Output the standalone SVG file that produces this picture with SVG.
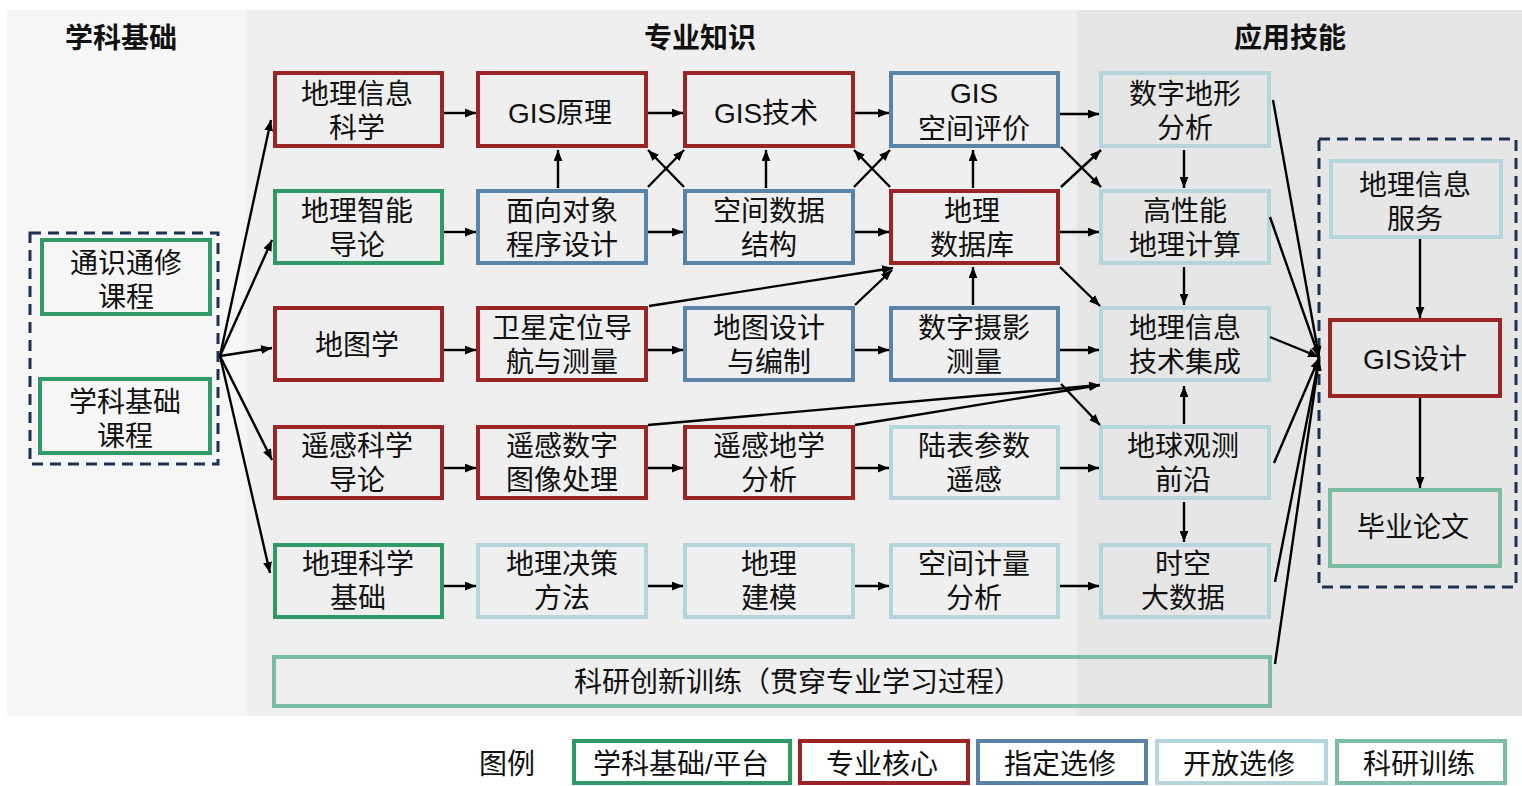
<svg xmlns="http://www.w3.org/2000/svg" width="1522" height="786" viewBox="0 0 1522 786">
<defs>
<marker id="ah" viewBox="0 0 10 8" refX="10" refY="4" markerWidth="11" markerHeight="9" markerUnits="userSpaceOnUse" orient="auto"><path d="M0,0 L10,4 L0,8 Z" fill="#000"/></marker>
<style>
text{font-family:"Liberation Sans","Noto Sans CJK SC",sans-serif;font-size:28px;fill:#111;text-anchor:middle;dominant-baseline:central}
.t{font-weight:bold;font-size:28px}
rect.b{fill:none;stroke-width:4}
.g{stroke:#2e9a66}.r{stroke:#9b2424}.bl{stroke:#5a83a8}.lb{stroke:#b5d5dc}.rs{stroke:#7cbea4}
.d{fill:none;stroke:#1f3152;stroke-width:3;stroke-dasharray:11 7}
#conn line{stroke:#000;stroke-width:2.4;fill:none;marker-end:url(#ah)}
</style>
</defs>
<rect width="1522" height="786" fill="#fff"/>
<rect x="7" y="10" width="240" height="706" fill="#f6f6f6"/>
<rect x="247" y="10" width="830" height="706" fill="#efefef"/>
<rect x="1077" y="10" width="445" height="706" fill="#e6e6e6"/>
<text class="t" x="121" y="38">学科基础</text>
<text class="t" x="700" y="38">专业知识</text>
<text class="t" x="1290" y="38">应用技能</text>

<rect class="d" x="30" y="233" width="188" height="231"/>
<rect class="d" x="1319" y="139" width="197" height="448"/>

<g id="n_tongshi"><rect class="b g" x="42" y="240" width="168" height="74"/><text><tspan x="126" y="263">通识通修</tspan><tspan x="126" y="297">课程</tspan></text></g>
<g id="n_xueke"><rect class="b g" x="40" y="379" width="170" height="74"/><text><tspan x="125" y="402">学科基础</tspan><tspan x="125" y="436">课程</tspan></text></g>

<g id="n11"><rect class="b r" x="275" y="73" width="167" height="73"/><text><tspan x="357" y="94">地理信息</tspan><tspan x="357" y="128">科学</tspan></text></g>
<g id="n12"><rect class="b r" x="478" y="73" width="168" height="73"/><text x="560" y="113">GIS原理</text></g>
<g id="n13"><rect class="b r" x="685" y="73" width="168" height="73"/><text x="766" y="113">GIS技术</text></g>
<g id="n14"><rect class="b bl" x="891" y="73" width="167" height="73"/><text><tspan x="974" y="93">GIS</tspan><tspan x="974" y="129">空间评价</tspan></text></g>
<g id="n15"><rect class="b lb" x="1101" y="73" width="168" height="73"/><text><tspan x="1185" y="94">数字地形</tspan><tspan x="1185" y="128">分析</tspan></text></g>

<g id="n21"><rect class="b g" x="275" y="191" width="167" height="72"/><text><tspan x="357" y="211">地理智能</tspan><tspan x="357" y="245">导论</tspan></text></g>
<g id="n22"><rect class="b bl" x="478" y="191" width="168" height="72"/><text><tspan x="562" y="211">面向对象</tspan><tspan x="562" y="245">程序设计</tspan></text></g>
<g id="n23"><rect class="b bl" x="685" y="191" width="168" height="72"/><text><tspan x="769" y="211">空间数据</tspan><tspan x="769" y="245">结构</tspan></text></g>
<g id="n24"><rect class="b r" x="891" y="191" width="167" height="72"/><text><tspan x="972" y="211">地理</tspan><tspan x="972" y="245">数据库</tspan></text></g>
<g id="n25"><rect class="b lb" x="1101" y="191" width="168" height="72"/><text><tspan x="1185" y="211">高性能</tspan><tspan x="1185" y="245">地理计算</tspan></text></g>

<g id="n31"><rect class="b r" x="275" y="308" width="167" height="72"/><text x="357" y="345">地图学</text></g>
<g id="n32"><rect class="b r" x="478" y="308" width="168" height="72"/><text><tspan x="562" y="328">卫星定位导</tspan><tspan x="562" y="362">航与测量</tspan></text></g>
<g id="n33"><rect class="b bl" x="685" y="308" width="168" height="72"/><text><tspan x="769" y="328">地图设计</tspan><tspan x="769" y="362">与编制</tspan></text></g>
<g id="n34"><rect class="b bl" x="891" y="308" width="167" height="72"/><text><tspan x="974" y="328">数字摄影</tspan><tspan x="974" y="362">测量</tspan></text></g>
<g id="n35"><rect class="b lb" x="1101" y="308" width="168" height="72"/><text><tspan x="1185" y="328">地理信息</tspan><tspan x="1185" y="362">技术集成</tspan></text></g>

<g id="n41"><rect class="b r" x="275" y="427" width="167" height="71"/><text><tspan x="357" y="446">遥感科学</tspan><tspan x="357" y="480">导论</tspan></text></g>
<g id="n42"><rect class="b r" x="478" y="427" width="168" height="71"/><text><tspan x="562" y="446">遥感数字</tspan><tspan x="562" y="480">图像处理</tspan></text></g>
<g id="n43"><rect class="b r" x="685" y="427" width="168" height="71"/><text><tspan x="769" y="446">遥感地学</tspan><tspan x="769" y="480">分析</tspan></text></g>
<g id="n44"><rect class="b lb" x="891" y="427" width="167" height="71"/><text><tspan x="974" y="446">陆表参数</tspan><tspan x="974" y="480">遥感</tspan></text></g>
<g id="n45"><rect class="b lb" x="1101" y="427" width="168" height="71"/><text><tspan x="1183" y="446">地球观测</tspan><tspan x="1183" y="480">前沿</tspan></text></g>

<g id="n51"><rect class="b g" x="275" y="545" width="167" height="72"/><text><tspan x="358" y="564">地理科学</tspan><tspan x="358" y="598">基础</tspan></text></g>
<g id="n52"><rect class="b lb" x="478" y="545" width="168" height="72"/><text><tspan x="562" y="564">地理决策</tspan><tspan x="562" y="598">方法</tspan></text></g>
<g id="n53"><rect class="b lb" x="685" y="545" width="168" height="72"/><text><tspan x="769" y="564">地理</tspan><tspan x="769" y="598">建模</tspan></text></g>
<g id="n54"><rect class="b lb" x="891" y="545" width="167" height="72"/><text><tspan x="974" y="564">空间计量</tspan><tspan x="974" y="598">分析</tspan></text></g>
<g id="n55"><rect class="b lb" x="1101" y="545" width="168" height="72"/><text><tspan x="1183" y="564">时空</tspan><tspan x="1183" y="598">大数据</tspan></text></g>

<g id="n_research"><rect class="b rs" x="274" y="657" width="996" height="49"/><text x="798" y="682">科研创新训练（贯穿专业学习过程）</text></g>

<g id="n_fuwu"><rect class="b lb" x="1331" y="161" width="170" height="76"/><text><tspan x="1415" y="185">地理信息</tspan><tspan x="1415" y="219">服务</tspan></text></g>
<g id="n_gisdesign"><rect class="b r" x="1330" y="320" width="170" height="76"/><text x="1415" y="359">GIS设计</text></g>
<g id="n_lunwen"><rect class="b rs" x="1330" y="490" width="170" height="76"/><text x="1413" y="527">毕业论文</text></g>

<g id="conn">
<line x1="220" y1="356" x2="271" y2="120"/>
<line x1="220" y1="356" x2="272" y2="240"/>
<line x1="220" y1="356" x2="272" y2="348"/>
<line x1="220" y1="356" x2="272" y2="460"/>
<line x1="220" y1="356" x2="270" y2="573"/>

<line x1="444" y1="113" x2="476" y2="113"/>
<line x1="648" y1="113" x2="683" y2="113"/>
<line x1="855" y1="113" x2="889" y2="113"/>
<line x1="1060" y1="114" x2="1099" y2="114"/>

<line x1="444" y1="232" x2="476" y2="232"/>
<line x1="648" y1="232" x2="683" y2="232"/>
<line x1="855" y1="232" x2="889" y2="232"/>
<line x1="1060" y1="232" x2="1099" y2="232"/>

<line x1="444" y1="350" x2="476" y2="350"/>
<line x1="648" y1="350" x2="683" y2="350"/>
<line x1="855" y1="350" x2="889" y2="350"/>
<line x1="1060" y1="350" x2="1099" y2="350"/>

<line x1="444" y1="468" x2="476" y2="468"/>
<line x1="648" y1="468" x2="683" y2="468"/>
<line x1="855" y1="468" x2="889" y2="468"/>
<line x1="1060" y1="468" x2="1099" y2="468"/>

<line x1="444" y1="586" x2="476" y2="586"/>
<line x1="648" y1="586" x2="683" y2="586"/>
<line x1="855" y1="586" x2="889" y2="586"/>
<line x1="1060" y1="586" x2="1099" y2="586"/>

<line x1="558" y1="188" x2="558" y2="150"/>
<line x1="766" y1="188" x2="766" y2="150"/>
<line x1="973" y1="188" x2="973" y2="150"/>
<line x1="973" y1="305" x2="973" y2="267"/>
<line x1="1184" y1="150" x2="1184" y2="188"/>
<line x1="1184" y1="267" x2="1184" y2="305"/>
<line x1="1184" y1="424" x2="1184" y2="386"/>
<line x1="1184" y1="502" x2="1184" y2="542"/>
<line x1="1420" y1="239" x2="1420" y2="318"/>
<line x1="1420" y1="398" x2="1420" y2="488"/>

<line x1="648" y1="187" x2="684" y2="150"/>
<line x1="684" y1="187" x2="648" y2="150"/>
<line x1="854" y1="187" x2="890" y2="150"/>
<line x1="890" y1="187" x2="854" y2="150"/>
<line x1="1061" y1="187" x2="1101" y2="150"/>
<line x1="1061" y1="147" x2="1101" y2="187"/>
<line x1="1060" y1="267" x2="1100" y2="306"/>
<line x1="649" y1="306" x2="893" y2="268"/>
<line x1="855" y1="305" x2="892" y2="270"/>
<line x1="1061" y1="384" x2="1100" y2="425"/>
<line x1="648" y1="425" x2="1100" y2="385"/>
<line x1="855" y1="425" x2="1100" y2="385"/>

<line x1="1273" y1="100" x2="1319" y2="357"/>
<line x1="1270" y1="217" x2="1319" y2="357"/>
<line x1="1270" y1="337" x2="1319" y2="357"/>
<line x1="1274" y1="463" x2="1319" y2="358"/>
<line x1="1275" y1="582" x2="1319" y2="359"/>
<line x1="1275" y1="664" x2="1319" y2="360"/>
</g>

<g id="legend">
<text x="507" y="764">图例</text>
<rect class="b g" x="574" y="741" width="216" height="42"/><text x="681" y="764">学科基础/平台</text>
<rect class="b r" x="800" y="741" width="168" height="42"/><text x="882" y="764">专业核心</text>
<rect class="b bl" x="978" y="741" width="168" height="42"/><text x="1060" y="764">指定选修</text>
<rect class="b lb" x="1157" y="741" width="169" height="42"/><text x="1239" y="764">开放选修</text>
<rect class="b rs" x="1337" y="741" width="168" height="42"/><text x="1419" y="764">科研训练</text>
</g>
</svg>
